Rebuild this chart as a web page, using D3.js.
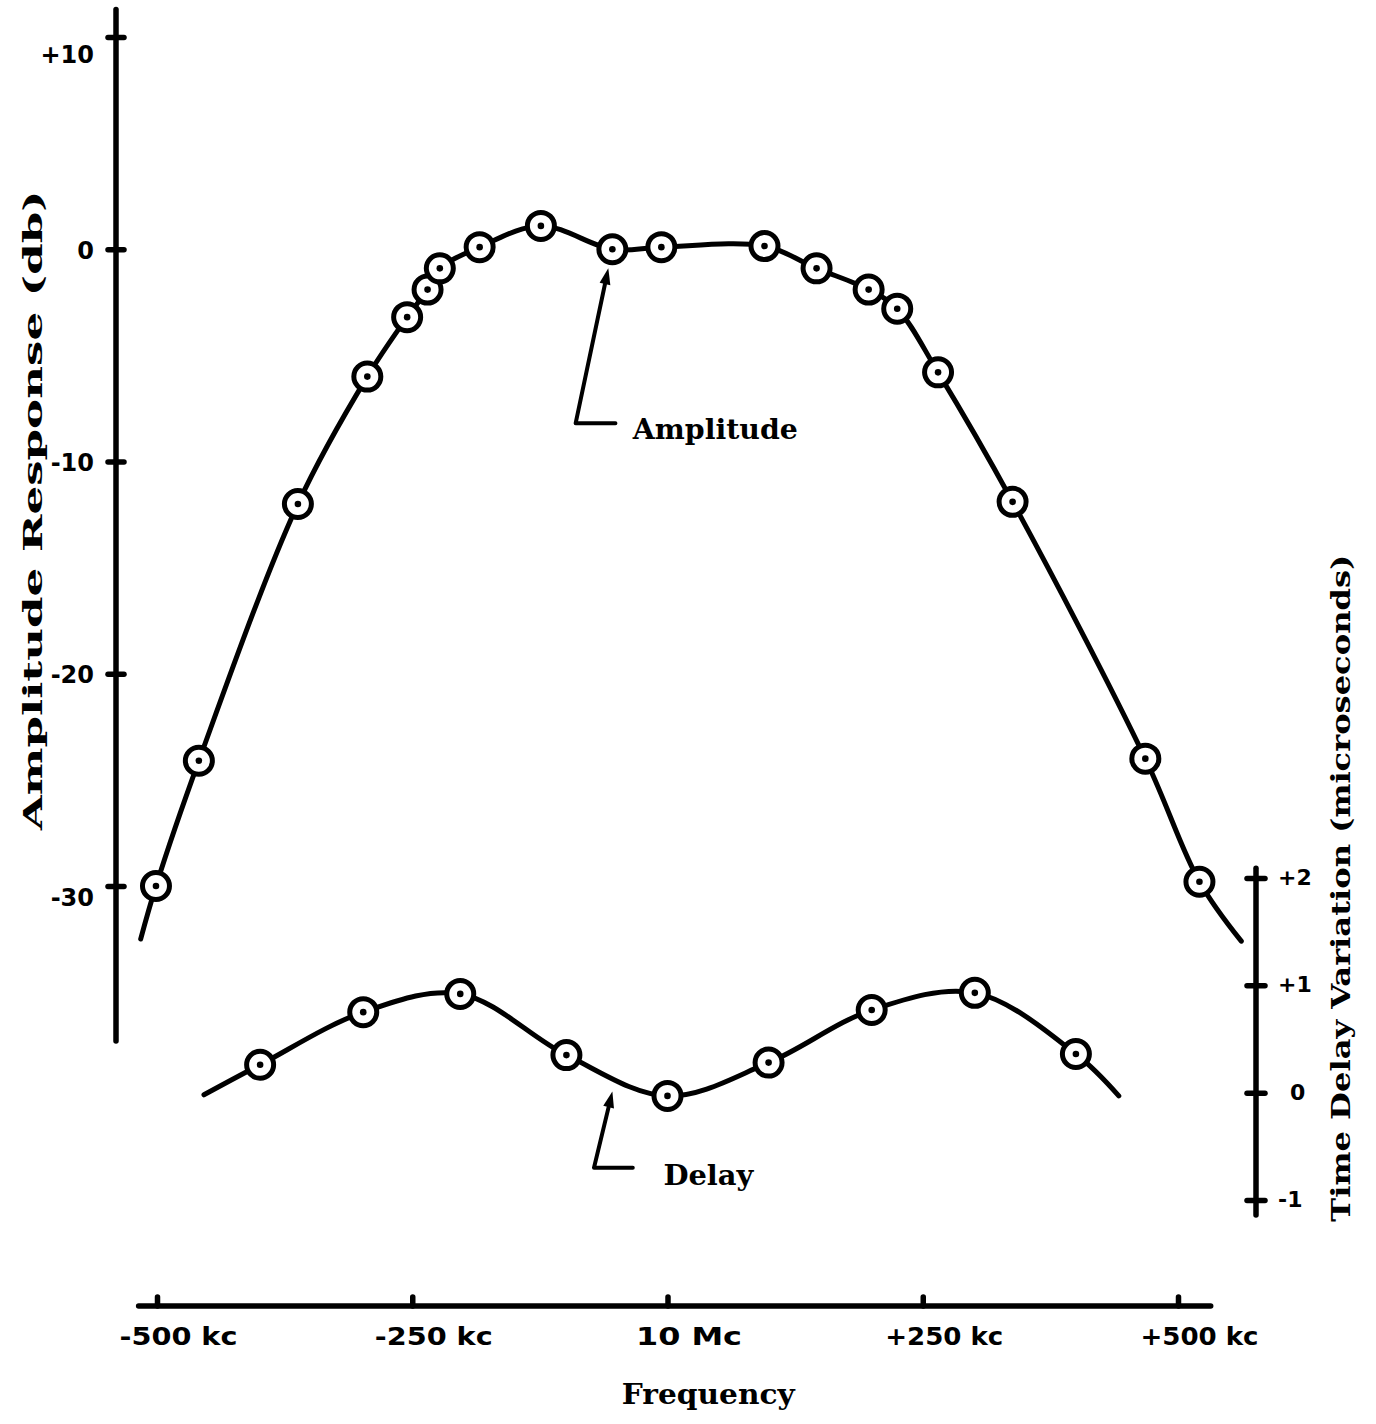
<!DOCTYPE html>
<html>
<head>
<meta charset="utf-8">
<script src="https://cdn.jsdelivr.net/npm/d3@7"></script>
<style>
  html, body { margin: 0; padding: 0; background: #fff; }
  svg { display: block; }
</style>
</head>
<body>
<svg id="chart" width="1376" height="1424"></svg>
<script>
// ---------------- DATA ----------------
// Frequency offset from 10 Mc, in kc
const freqTicks = [-500, -250, 0, 250, 500];
const freqTickLabels = ["-500 kc", "-250 kc", "10 Mc", "+250 kc", "+500 kc"];

const ampTicks = [10, 0, -10, -20, -30];
const ampTickLabels = ["+10", "0", "-10", "-20", "-30"];

const delayTicks = [2, 1, 0, -1];
const delayTickLabels = ["+2", "+1", "0", "-1"];

// Amplitude response (db) measured points
const ampFreq = [-501, -459, -362, -294, -255, -235, -223, -184, -124, -54, -6, 95, 146, 197, 225, 265, 338, 468, 521];
const ampDb   = [-30.0, -24.1, -12.0, -6.0, -3.2, -1.9, -0.9, 0.1, 1.1, 0.0, 0.1, 0.15, -0.9, -1.9, -2.8, -5.8, -11.9, -24.0, -29.8];
// where the drawn amplitude curve begins and ends
const ampCurveStart = [-516, -32.5];
const ampCurveEnd   = [562, -32.6];

// Time delay variation (microseconds) measured points
const delayFreq = [-399, -298, -203, -99, 0, 99, 200, 301, 400];
const delayUs   = [0.26, 0.75, 0.92, 0.35, -0.03, 0.28, 0.77, 0.93, 0.36];
const delayCurveStart = [-454, -0.02];
const delayCurveEnd   = [442, -0.03];

// ---------------- SCALES ----------------
const svg = d3.select("#chart");
const x = d3.scaleLinear().domain([-500, 500]).range([157, 1178]);
const yAmp = d3.scaleLinear().domain([10, -30]).range([37, 886]);
const yDel = d3.scaleLinear().domain([2, -1]).range([878, 1200]);

const INK = "#000";
const serif = "'DejaVu Serif', 'Liberation Serif', serif";
const sans = "'DejaVu Sans', 'Liberation Sans', sans-serif";

// ---------------- AXES ----------------
// Left amplitude axis
const leftX = 116;
const gLeft = svg.append("g").attr("transform", `translate(${leftX},0)`)
  .call(d3.axisLeft(yAmp).tickValues(ampTicks).tickFormat((d, i) => ampTickLabels[i]).tickSize(0).tickPadding(22));
gLeft.select(".domain").remove();
gLeft.append("line").attr("x1", 0).attr("x2", 0)
  .attr("y1", yAmp(11.3)).attr("y2", yAmp(-37.3))
  .attr("stroke", INK).attr("stroke-width", 5.5).attr("stroke-linecap", "round");
gLeft.selectAll(".tick line").attr("x1", -8).attr("x2", 8)
  .attr("stroke", INK).attr("stroke-width", 5.5).attr("stroke-linecap", "round");
gLeft.selectAll(".tick text")
  .attr("font-family", sans).attr("font-weight", "bold").attr("font-size", 24)
  .attr("fill", INK).attr("dy", (d) => d === 10 ? "1.05em" : (d === -30 ? "0.8em" : "0.38em"));

// Bottom frequency axis
const axisY = 1306;
const gBot = svg.append("g").attr("transform", `translate(0,${axisY})`)
  .call(d3.axisBottom(x).tickValues(freqTicks).tickFormat((d, i) => freqTickLabels[i]).tickSize(0).tickPadding(15));
gBot.select(".domain").remove();
gBot.append("line").attr("x1", x(-518)).attr("x2", x(532)).attr("y1", 0).attr("y2", 0)
  .attr("stroke", INK).attr("stroke-width", 5.5).attr("stroke-linecap", "round");
gBot.selectAll(".tick line").attr("y1", -9).attr("y2", 0)
  .attr("stroke", INK).attr("stroke-width", 5.5).attr("stroke-linecap", "round");
gBot.selectAll(".tick text")
  .attr("font-family", sans).attr("font-weight", "bold").attr("font-size", 25)
  .attr("fill", INK).attr("dx", 21).attr("dy", "0.95em")
  .attr("textLength", 118).attr("lengthAdjust", "spacingAndGlyphs");
gBot.selectAll(".tick text").filter((d) => d === 0).attr("textLength", 106);

// Right delay axis
const rightX = 1256;
const gRight = svg.append("g").attr("transform", `translate(${rightX},0)`)
  .call(d3.axisRight(yDel).tickValues(delayTicks).tickFormat((d, i) => delayTickLabels[i]).tickSize(0).tickPadding(22));
gRight.select(".domain").remove();
gRight.append("line").attr("x1", 0).attr("x2", 0)
  .attr("y1", yDel(2.09)).attr("y2", yDel(-1.14))
  .attr("stroke", INK).attr("stroke-width", 5.5).attr("stroke-linecap", "round");
gRight.selectAll(".tick line").attr("x1", -9).attr("x2", 9)
  .attr("stroke", INK).attr("stroke-width", 5.5).attr("stroke-linecap", "round");
gRight.selectAll(".tick text")
  .attr("font-family", sans).attr("font-weight", "bold").attr("font-size", 22)
  .attr("fill", INK).attr("dy", "0.3em")
  .attr("dx", (d) => d === 0 ? 12 : 0);

// ---------------- CURVES ----------------
const ampPts = ampFreq.map((f, i) => [f, ampDb[i]]);
const ampCurve = [ampCurveStart, ...ampPts, ampCurveEnd];
const delPts = delayFreq.map((f, i) => [f, delayUs[i]]);
const delCurve = [delayCurveStart, ...delPts, delayCurveEnd];

const lineAmp = d3.line().x((d) => x(d[0])).y((d) => yAmp(d[1])).curve(d3.curveCatmullRom.alpha(0.5));
const lineDel = d3.line().x((d) => x(d[0])).y((d) => yDel(d[1])).curve(d3.curveCatmullRom.alpha(0.5));

svg.append("path").datum(ampCurve).attr("d", lineAmp)
  .attr("fill", "none").attr("stroke", INK).attr("stroke-width", 5)
  .attr("stroke-linecap", "round").attr("stroke-linejoin", "round");
svg.append("path").datum(delCurve).attr("d", lineDel)
  .attr("fill", "none").attr("stroke", INK).attr("stroke-width", 5)
  .attr("stroke-linecap", "round").attr("stroke-linejoin", "round");

// ---------------- MARKERS ----------------
function drawMarkers(pts, yScale, cls) {
  const g = svg.append("g").attr("class", cls);
  const m = g.selectAll("g").data(pts).join("g")
    .attr("transform", (d) => `translate(${x(d[0])},${yScale(d[1])})`);
  m.append("circle").attr("r", 13.5).attr("fill", "#fff").attr("stroke", INK).attr("stroke-width", 5);
  m.append("circle").attr("r", 3.3).attr("fill", INK);
}
drawMarkers(ampPts, yAmp, "amp-markers");
drawMarkers(delPts, yDel, "delay-markers");

// ---------------- ANNOTATIONS ----------------
function leader(tip, elbow, endX, yScale) {
  const p0 = [x(endX), yScale(elbow[1])];
  const p1 = [x(elbow[0]), yScale(elbow[1])];
  const p2 = [x(tip[0]), yScale(tip[1])];
  const dx = p2[0] - p1[0], dy = p2[1] - p1[1];
  const len = Math.hypot(dx, dy);
  const ux = dx / len, uy = dy / len;
  const headLen = 16, headW = 5.5;
  const base = [p2[0] - ux * headLen, p2[1] - uy * headLen];
  svg.append("path")
    .attr("d", `M${p0[0]},${p0[1]}L${p1[0]},${p1[1]}L${base[0]},${base[1]}`)
    .attr("fill", "none").attr("stroke", INK).attr("stroke-width", 4)
    .attr("stroke-linejoin", "round").attr("stroke-linecap", "round");
  svg.append("path")
    .attr("d", `M${p2[0]},${p2[1]}L${base[0] - uy * headW},${base[1] + ux * headW}L${base[0] + uy * headW},${base[1] - ux * headW}Z`)
    .attr("fill", INK);
}
leader([-58, -0.9], [-90, -8.2], -51, yAmp);
leader([-54, 0.01], [-72, -0.70], -34, yDel);

svg.append("text").attr("x", x(-34)).attr("y", yAmp(-8.95))
  .attr("font-family", serif).attr("font-weight", "bold").attr("font-size", 27)
  .attr("textLength", 165).attr("lengthAdjust", "spacingAndGlyphs")
  .attr("fill", INK).text("Amplitude");
svg.append("text").attr("x", x(-4)).attr("y", yDel(-0.86))
  .attr("font-family", serif).attr("font-weight", "bold").attr("font-size", 27)
  .attr("textLength", 90).attr("lengthAdjust", "spacingAndGlyphs")
  .attr("fill", INK).text("Delay");

// ---------------- AXIS TITLES ----------------
svg.append("text")
  .attr("transform", `translate(42,${yAmp(-12.3)}) rotate(-90)`)
  .attr("text-anchor", "middle")
  .attr("font-family", serif).attr("font-weight", "bold").attr("font-size", 26)
  .attr("textLength", 640).attr("lengthAdjust", "spacingAndGlyphs")
  .attr("fill", INK).text("Amplitude Response (db)");

svg.append("text")
  .attr("transform", `translate(1350,${yDel(1.905)}) rotate(-90)`)
  .attr("text-anchor", "middle")
  .attr("font-family", serif).attr("font-weight", "bold").attr("font-size", 26)
  .attr("textLength", 667).attr("lengthAdjust", "spacingAndGlyphs")
  .attr("fill", INK).text("Time Delay Variation (microseconds)");

svg.append("text")
  .attr("x", x(40)).attr("y", 1404)
  .attr("text-anchor", "middle")
  .attr("font-family", serif).attr("font-weight", "bold").attr("font-size", 27)
  .attr("textLength", 173).attr("lengthAdjust", "spacingAndGlyphs")
  .attr("fill", INK).text("Frequency");
</script>
</body>
</html>
